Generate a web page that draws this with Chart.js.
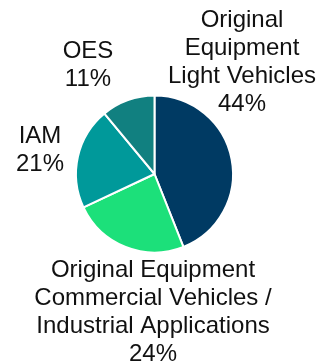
<!DOCTYPE html>
<html>
<head>
<meta charset="utf-8">
<script src="https://cdn.jsdelivr.net/npm/chart.js@4.4.1/dist/chart.umd.min.js"></script>
<style>
  html, body { margin: 0; padding: 0; background: #fff; }
  #wrap { width: 322px; height: 364px; }
</style>
</head>
<body>
<div id="wrap"><canvas id="pieChart" width="322" height="364"></canvas></div>
<script>
let categories = [
  ["Original", "Equipment", "Light Vehicles"],
  ["Original Equipment", "Commercial Vehicles /", "Industrial Applications"],
  ["IAM"],
  ["OES"],
];
let shares = [44, 24, 21, 11];
let sliceColors = ["#003a63", "#1ce07a", "#00999a", "#118080"];

// where each label block sits, relative to the pie centre (centre x, first baseline)
let labelSpots = [
  { dx: 87.5, dy: -147.5 },
  { dx: -1.5, dy: 103 },
  { dx: -114.5, dy: -31 },
  { dx: -66.5, dy: -115.7 },
];

let chart = document.getElementById("pieChart");

let labelPlugin = {
  id: "sliceLabels",
  afterDraw(c) {
    let ctx = c.ctx;
    let arcs = c.getDatasetMeta(0).data;
    ctx.save();
    ctx.font = "24px 'Liberation Sans', Arial, sans-serif";
    ctx.fillStyle = "#111";
    ctx.textAlign = "center";
    ctx.textBaseline = "alphabetic";
    arcs.forEach((arc, i) => {
      let lines = categories[i].concat([shares[i] + "%"]);
      let x = arc.x + labelSpots[i].dx;
      let y = arc.y + labelSpots[i].dy;
      lines.forEach((line, j) => {
        ctx.fillText(line, x, y + j * 28);
      });
    });
    ctx.restore();
  },
};

new Chart(chart, {
  type: "pie",
  data: {
    labels: categories.map((c) => c.join(" ")),
    datasets: [
      {
        data: shares,
        backgroundColor: sliceColors,
        borderColor: "#ffffff",
        borderWidth: 2,
      },
    ],
  },
  options: {
    responsive: false,
    animation: false,
    layout: {
      padding: { left: 75, right: 88, top: 94.5, bottom: 110.5 },
    },
    plugins: {
      legend: { display: false },
      tooltip: { enabled: false },
    },
  },
  plugins: [labelPlugin],
});
</script>
</body>
</html>
